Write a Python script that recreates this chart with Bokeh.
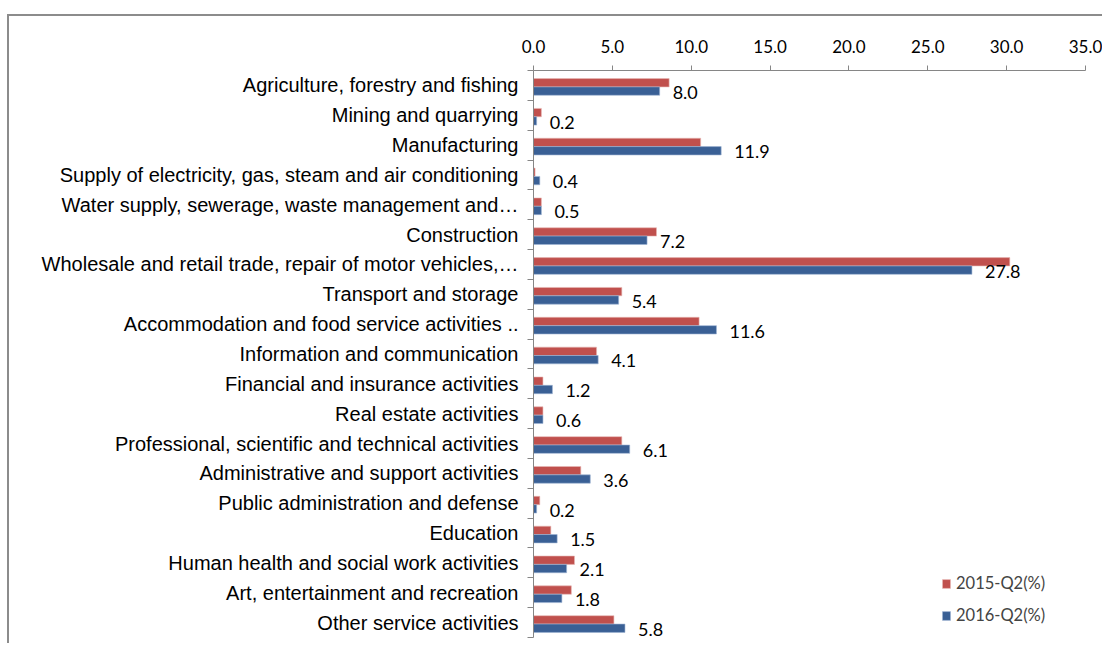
from bokeh.plotting import figure
from bokeh.models import (Range1d, FixedTicker, NumeralTickFormatter,
                          ColumnDataSource, Legend, LegendItem)
from bokeh.core.properties import value
from bokeh.embed import file_html
from bokeh.resources import INLINE

categories = [
    "Agriculture, forestry and fishing",
    "Mining and quarrying",
    "Manufacturing",
    "Supply of electricity, gas, steam and air conditioning",
    "Water supply, sewerage, waste management and\u2026",
    "Construction",
    "Wholesale and retail trade, repair of motor vehicles,\u2026",
    "Transport and storage",
    "Accommodation and food service activities ..",
    "Information and communication",
    "Financial and insurance activities",
    "Real estate activities",
    "Professional, scientific and technical activities",
    "Administrative and support activities",
    "Public administration and defense",
    "Education",
    "Human health and social work activities",
    "Art, entertainment and recreation",
    "Other service activities",
]
q2_2015 = [8.6, 0.5, 10.6, 0.1, 0.5, 7.8, 30.2, 5.6, 10.5, 4.0, 0.6, 0.6, 5.6, 3.0, 0.4, 1.1, 2.6, 2.4, 5.1]
q2_2016 = [8.0, 0.2, 11.9, 0.4, 0.5, 7.2, 27.8, 5.4, 11.6, 4.1, 1.2, 0.6, 6.1, 3.6, 0.2, 1.5, 2.1, 1.8, 5.8]
series_names = ["2015-Q2(%)", "2016-Q2(%)"]
x_ticks = [0, 5, 10, 15, 20, 25, 30, 35]

RED = "#C0504D"
BLUE = "#3A6095"
AXIS = "#868686"

n = len(categories)
ypos = [n - i - 0.5 for i in range(n)]          # category centres, first at top
off = 0.14
shift = -0.05
src = ColumnDataSource(dict(
    y15=[y + off + shift for y in ypos],
    y16=[y - off + shift for y in ypos],
    ylbl=[y - 0.23 for y in ypos],
    v15=q2_2015,
    v16=q2_2016,
    lbl=[f"{v:.1f}" for v in q2_2016],
))

p = figure(width=1095, height=629, y_range=Range1d(0, n), x_range=Range1d(0, 35),
           x_axis_location="above", output_backend="svg", toolbar_location=None,
           min_border_left=524, min_border_right=19, min_border_top=54, min_border_bottom=8)
p.outline_line_color = None
p.grid.visible = False
p.styles = {"border-top": "2px solid #8c8c8c", "border-left": "2px solid #8c8c8c",
            "margin-left": "7px", "margin-top": "14px"}

r15 = p.hbar(y="y15", right="v15", left=0, height=0.28, source=src,
             fill_color=RED, line_color="#E8B8B6", line_width=0.6)
r16 = p.hbar(y="y16", right="v16", left=0, height=0.28, source=src,
             fill_color=BLUE, line_color="#9DB3D3", line_width=0.6)

p.text(x="v16", y="ylbl", text="lbl", source=src,
       x_offset=13, text_baseline="middle", text_align="left",
       text_font=value("Lato"), text_font_size="18px", text_color="#000000")

# top value axis
xa = p.xaxis[0]
xa.ticker = FixedTicker(ticks=x_ticks)
xa.formatter = NumeralTickFormatter(format="0.0")
xa.major_label_text_font = "Lato"
xa.major_label_text_font_size = "17px"
xa.major_label_text_color = "#000000"
xa.axis_line_color = AXIS
xa.major_tick_line_color = AXIS
xa.major_tick_out = 5
xa.major_tick_in = 0
xa.minor_tick_line_color = None
xa.major_label_standoff = 13

# left axis: labels at category centres, ticks (minor) at category boundaries
ya = p.yaxis[0]
ya.ticker = FixedTicker(ticks=ypos, minor_ticks=list(range(n + 1)))
ya.major_label_overrides = {y: c for y, c in zip(ypos, categories)}
ya.axis_line_color = AXIS
ya.major_tick_line_color = None
ya.major_tick_out = 0
ya.major_tick_in = 0
ya.minor_tick_line_color = AXIS
ya.minor_tick_out = 6
ya.minor_tick_in = 0
ya.major_label_text_font = "Liberation Sans"
ya.major_label_text_font_size = "20px"
ya.major_label_text_color = "#000000"
ya.major_label_standoff = 9

legend = Legend(items=[LegendItem(label=series_names[0], renderers=[r15]),
                       LegendItem(label=series_names[1], renderers=[r16])],
                location=(408, 12), orientation="vertical",
                glyph_width=10, glyph_height=11, label_height=20, spacing=12,
                label_text_font="Lato", label_text_font_size="16.5px",
                border_line_color=None, background_fill_alpha=0, padding=4, margin=0)
p.add_layout(legend, "center")

open("out.html", "w").write(file_html(p, INLINE))
